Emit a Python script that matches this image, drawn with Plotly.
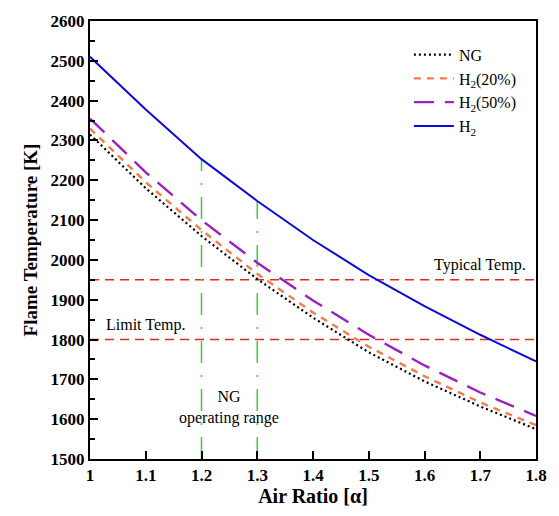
import plotly.graph_objects as go

air_ratio = [1.0, 1.1, 1.2, 1.3, 1.4, 1.5, 1.6, 1.7, 1.8]
ng = [2315, 2180, 2060, 1952, 1855, 1768, 1695, 1632, 1575]
h2_20 = [2330, 2195, 2075, 1965, 1868, 1782, 1708, 1642, 1585]
h2_50 = [2355, 2220, 2100, 1993, 1898, 1812, 1735, 1667, 1608]
h2 = [2510, 2378, 2253, 2148, 2050, 1962, 1884, 1812, 1745]

typical_temp = 1950
limit_temp = 1800
ng_range = [1.2, 1.3]
x_ticks = [1, 1.1, 1.2, 1.3, 1.4, 1.5, 1.6, 1.7, 1.8]
x_tick_text = ["1", "1.1", "1.2", "1.3", "1.4", "1.5", "1.6", "1.7", "1.8"]

FONT = "Liberation Serif, Times New Roman, serif"

fig = go.Figure()

# reference lines
for t in [typical_temp, limit_temp]:
    fig.add_trace(go.Scatter(x=[air_ratio[0], air_ratio[-1]], y=[t, t], mode="lines",
                             line=dict(color="#e0282a", width=1.6, dash="9px,6px"),
                             showlegend=False, hoverinfo="skip"))
for xv in ng_range:
    top = h2[air_ratio.index(xv)]
    fig.add_trace(go.Scatter(x=[xv, xv], y=[1500, top], mode="lines",
                             line=dict(color="#4ccc4c", width=1.6, dash="22px,12px,2px,12px"),
                             showlegend=False, hoverinfo="skip"))

fig.add_trace(go.Scatter(x=air_ratio, y=ng, mode="lines", name="NG",
                         line=dict(color="black", width=2.2, dash="2px,3px")))
fig.add_trace(go.Scatter(x=air_ratio, y=h2_20, mode="lines", name="H<sub>2</sub>(20%)",
                         line=dict(color="#f47c4a", width=2.4, dash="7px,6px")))
fig.add_trace(go.Scatter(x=air_ratio, y=h2_50, mode="lines", name="H<sub>2</sub>(50%)",
                         line=dict(color="#9a20c0", width=2.4, dash="20px,11px")))
fig.add_trace(go.Scatter(x=air_ratio, y=h2, mode="lines", name="H<sub>2</sub>",
                         line=dict(color="#0a0adc", width=2)))

fig.add_annotation(x=1.785, y=typical_temp, yshift=4, text="Typical Temp.", showarrow=False,
                   xanchor="right", yanchor="bottom", font=dict(family=FONT, size=16, color="black"))
fig.add_annotation(x=1.1, y=limit_temp, yshift=4, text="Limit Temp.", showarrow=False,
                   xanchor="center", yanchor="bottom", font=dict(family=FONT, size=16, color="black"))
fig.add_annotation(x=1.25, y=1630, text="NG<br>operating range", showarrow=False,
                   xanchor="center", yanchor="middle", font=dict(family=FONT, size=16, color="black"))

axis_common = dict(showline=True, linecolor="black", linewidth=2, mirror=True,
                   ticks="inside", tickcolor="black", tickwidth=2, ticklen=8,
                   showgrid=False, zeroline=False,
                   tickfont=dict(family=FONT, size=17, color="black", weight="bold"))

fig.update_xaxes(range=[1, 1.8], tickvals=x_ticks, ticktext=x_tick_text,
                 title=dict(text="<b>Air Ratio [α]</b>", font=dict(family=FONT, size=20, color="black"), standoff=5),
                 **axis_common)
fig.update_yaxes(range=[1500, 2600], dtick=100,
                 minor=dict(ticks="inside", ticklen=5, dtick=50, tickcolor="black", tickwidth=2),
                 title=dict(text="<b>Flame Temperature [K]</b>", font=dict(family=FONT, size=19, color="black"), standoff=8),
                 **axis_common)

fig.update_layout(
    width=559, height=516,
    margin=dict(l=90, r=21, t=13, b=55),
    paper_bgcolor="white", plot_bgcolor="white",
    font=dict(family=FONT, color="black"),
    legend=dict(x=0.715, y=0.962, xanchor="left", yanchor="top",
                font=dict(family=FONT, size=16, color="black"),
                bgcolor="rgba(0,0,0,0)", tracegroupgap=0, itemwidth=40),
)

fig.write_html("out.html")
